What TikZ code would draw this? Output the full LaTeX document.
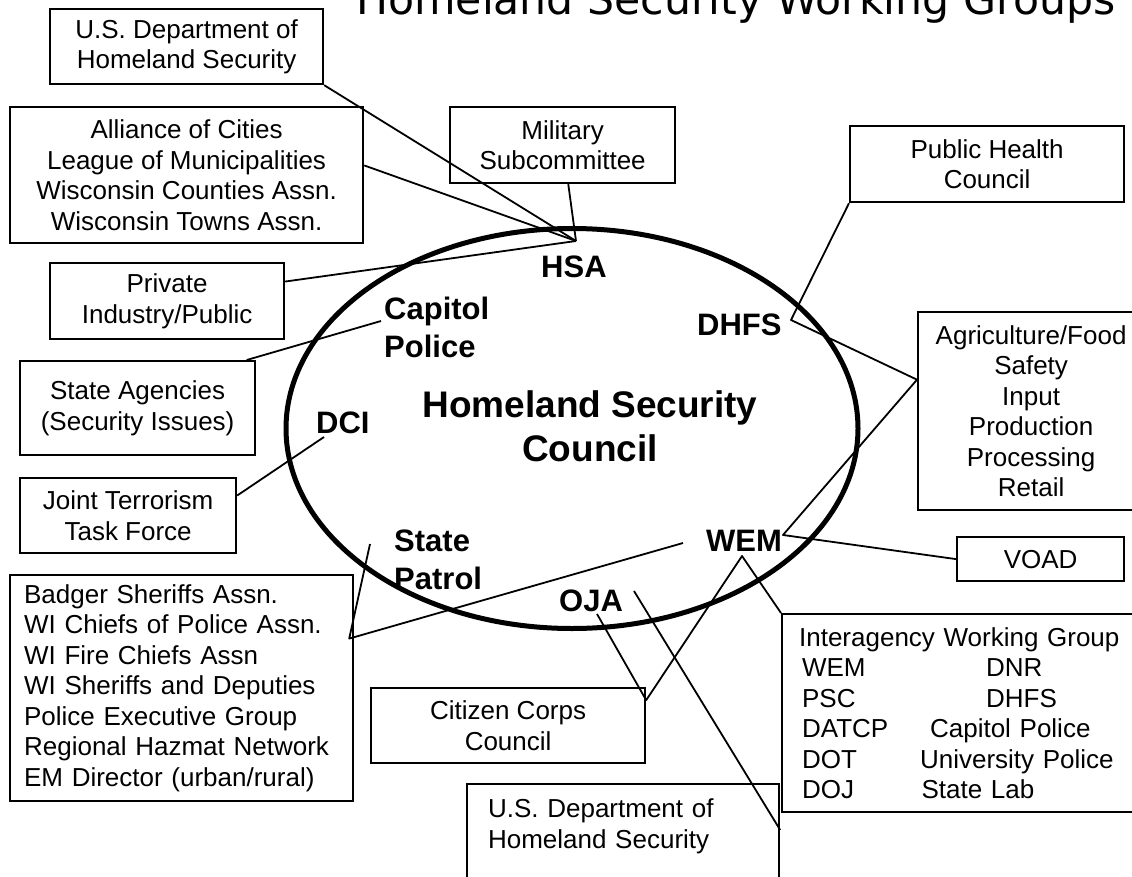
\documentclass[tikz,border=0pt]{standalone}
\usepackage{fontspec}
\setmainfont{Liberation Sans}
\newfontfamily\titlefont{DejaVu Sans}
\usetikzlibrary{shapes.geometric,calc}
\newcommand\boxfont{\fontsize{26}{30.5}\selectfont}
\newcommand\lblfont{\fontsize{31}{37.5}\selectfont\bfseries}
\begin{document}
\begin{tikzpicture}[x=1pt,y=-1pt,
  box/.style={draw, line width=2.2pt, inner sep=0pt, anchor=north west, align=center, font=\boxfont},
  conn/.style={line width=1.8pt, line join=round},
  lbl/.style={inner sep=0pt, font=\lblfont, align=left}]
\useasboundingbox (0,0) rectangle (1132,877);
\clip (0,0) rectangle (1132,877);

% title
\node[anchor=base west, inner sep=0pt, font=\titlefont\fontsize{42.6}{50}\selectfont] (title) at (356,15) {Homeland Security Working Groups};

% central ellipse
\node[draw, ellipse, line width=5pt, minimum width=572, minimum height=400, inner sep=0pt] (hsc) at (572,428.5) {};
\node[inner sep=0pt, align=center, font=\fontsize{37}{44}\selectfont\bfseries, anchor=north] (council) at (590,390) {Homeland Security\\Council};

% labels inside
\node[lbl, anchor=base west] (hsa) at (541,277) {HSA};
\node[lbl, anchor=base west] (dhfs) at (697,335) {DHFS};
\node[lbl, anchor=north west] (capitol) at (384,297) {Capitol\\Police};
\node[lbl, anchor=base west] (dci) at (316,433) {DCI};
\node[lbl, anchor=north west] (patrol) at (394,530) {State\\Patrol};
\node[lbl, anchor=base west] (oja) at (559,611) {OJA};
\node[lbl, anchor=base west] (wem) at (706,551) {WEM};

% boxes
\node[box, minimum width=273, minimum height=75] (dhsTop) at (49,8) {U.S. Department of\\Homeland Security};
\node[box, minimum width=353, minimum height=136] (alliance) at (9,106) {Alliance of Cities\\League of Municipalities\\Wisconsin Counties Assn.\\Wisconsin Towns Assn.};
\node[box, minimum width=234, minimum height=76] (private) at (49,262) {Private\\Industry/Public};
\node[box, minimum width=225, minimum height=76] (military) at (449,106) {Military\\Subcommittee};
\node[box, minimum width=274, minimum height=76] (health) at (849,125) {Public Health\\Council};
\node[box, minimum width=226, minimum height=198] (agri) at (917,311) {Agriculture/Food\\Safety\\Input\\Production\\Processing\\Retail};
\node[box, minimum width=167, minimum height=44] (voad) at (956,536) {VOAD};
\node[box, minimum width=235, minimum height=94] (stateAg) at (19,360) {State Agencies\\(Security Issues)};
\node[box, minimum width=216, minimum height=75] (joint) at (19,477) {Joint Terrorism\\Task Force};
\node[box, minimum width=274, minimum height=75] (citizen) at (370,687) {Citizen Corps\\Council};
\node[box, minimum height=226, text width=315, inner xsep=14pt, align=left] (badger) at (9,574) {Badger Sheriffs Assn.\\WI Chiefs of Police Assn.\\WI Fire Chiefs Assn\\WI Sheriffs and Deputies\\Police Executive Group\\Regional Hazmat Network\\EM Director (urban/rural)};
\node[box, minimum height=198, text width=344, inner xsep=9pt, align=left] (inter) at (781,613) {\hspace*{8pt}Interagency Working Group\\
\hspace*{11pt}\makebox[184pt][l]{WEM}DNR\\
\hspace*{11pt}\makebox[184pt][l]{PSC}DHFS\\
\hspace*{11pt}\makebox[128pt][l]{DATCP}Capitol Police\\
\hspace*{11pt}\makebox[118pt][l]{DOT}University Police\\
\hspace*{11pt}\makebox[119.5pt][l]{DOJ}State Lab};
\node[box, text width=270, inner xsep=21pt, inner ysep=15pt, align=left, text depth=90pt] (dhsBot) at (466,783) {U.S. Department of\\Homeland Security};

% connector end points
\coordinate (hsaPt) at (576,241);
\coordinate (capPt) at (381,321);
\coordinate (dciPt) at (324,437);
\coordinate (stPt) at (370,544);
\coordinate (wemL) at (683,543);
\coordinate (ojaPt) at (597,614);
\coordinate (wemB) at (742,556);
\coordinate (ojaR) at (634,591);
\coordinate (dhfsPt) at (791,320);
\coordinate (wemR) at (783,535);

% connectors
\draw[conn] (dhsTop.south east) -- (hsaPt);
\draw[conn] ($(alliance.north east)!0.43!(alliance.south east)$) -- (hsaPt);
\draw[conn] ($(private.north east)!0.25!(private.south east)$) -- (hsaPt);
\draw[conn] ($(military.south west)!0.525!(military.south east)$) -- (hsaPt);
\draw[conn] (capPt) -- ($(stateAg.north west)!0.96!(stateAg.north east)$);
\draw[conn] (dciPt) -- ($(joint.north east)!0.24!(joint.south east)$);
\draw[conn] (stPt) -- ($(badger.north east)!0.283!(badger.south east)+(-5,0)$) -- (wemL);
\draw[conn] (ojaPt) -- ($(citizen.north east)!0.17!(citizen.south east)$) -- (wemB) -- (inter.north west);
\draw[conn] (ojaR) -- ($(dhsBot.north east)+(0,47)$);
\draw[conn] (health.south west) -- (dhfsPt) -- ($(agri.north west)!0.343!(agri.south west)$) -- (wemR) -- (voad.west);
\end{tikzpicture}
\end{document}
